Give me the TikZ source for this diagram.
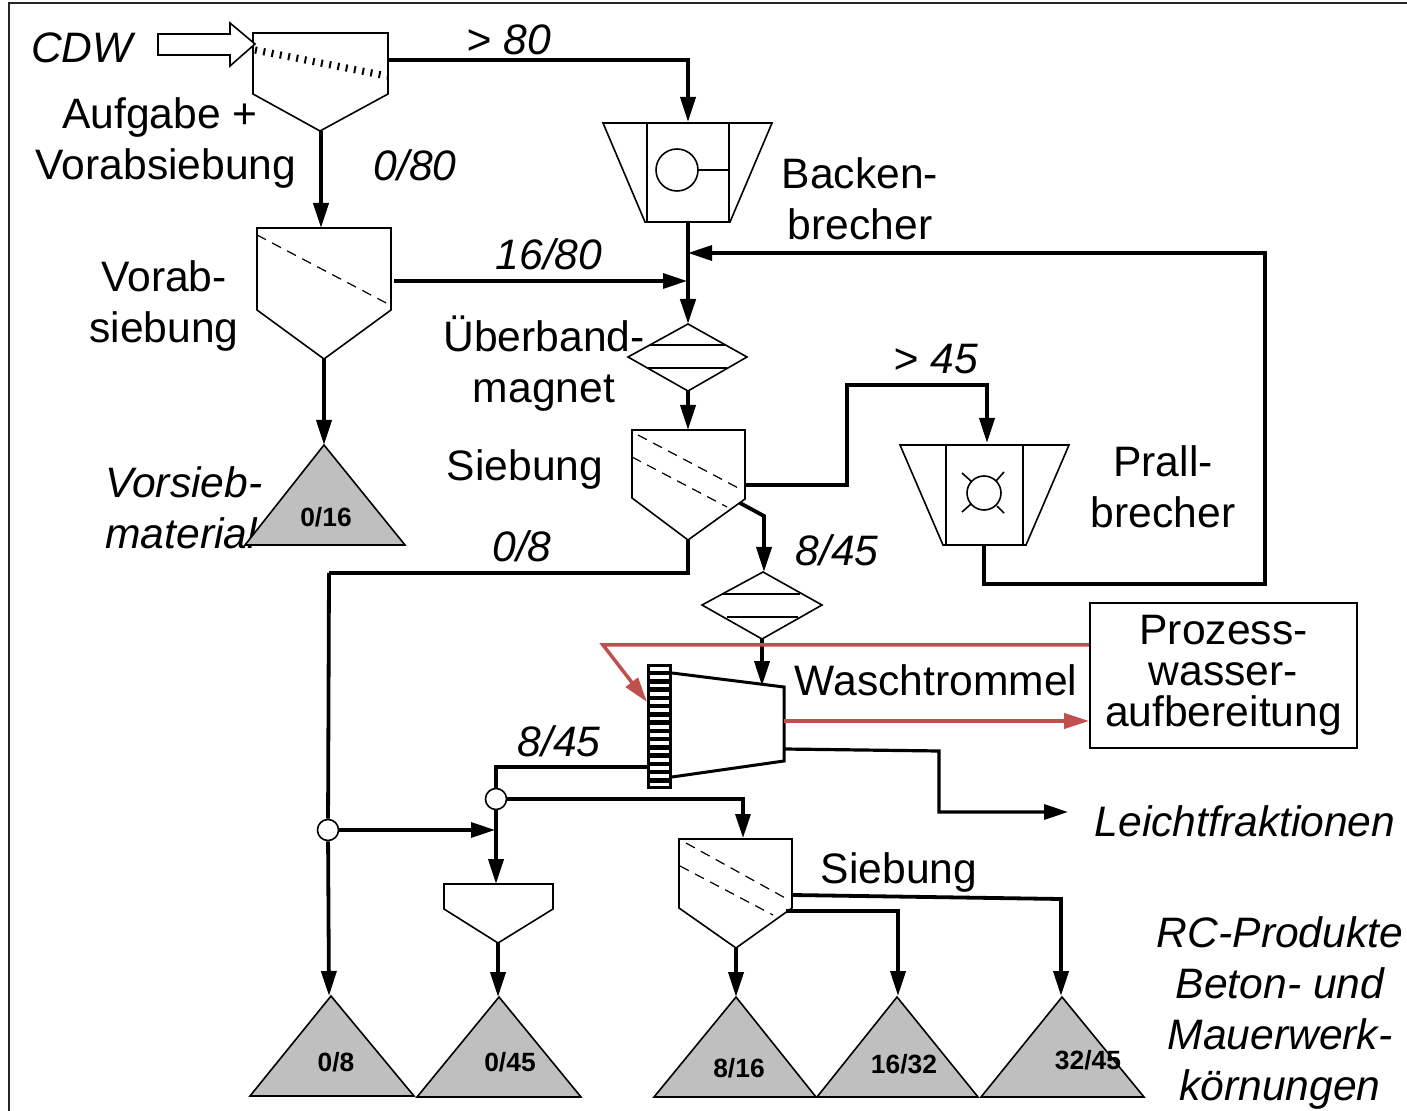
\documentclass[tikz,border=0pt]{standalone}
\usepackage{fontspec}
\setmainfont{Liberation Sans}
\usetikzlibrary{arrows.meta}

\begin{document}
\begin{tikzpicture}[x=0.5pt,y=-0.5pt,
    unit/.style={
        draw=black,
        line width=0.8pt,
        line join=miter
    },
    sieve/.style={
        black,
        line width=0.6pt,
        dash pattern=on 5pt off 3.5pt
    },
    pile/.style={
        draw=black,
        fill=gray!50!white,
        line width=0.8pt
    },
    flow/.style={
        -{Triangle[length=12.5pt,width=7.5pt]},
        black,
        line width=1.9pt,
        line join=miter
    },
    flowThin/.style={
        -{Triangle[length=12pt,width=7.5pt]},
        black,
        line width=1.6pt,
        line join=miter
    },
    water/.style={
        -{Triangle[length=12.5pt,width=7.5pt]},
        color={rgb,255:red,192;green,80;blue,77},
        line width=1.75pt
    },
    lbl/.style={
        font=\fontsize{21.3}{25.5}\selectfont,
        align=center,
        inner sep=0pt
    },
    tag/.style={
        lbl,
        font=\fontsize{21.3}{25.5}\selectfont\itshape
    },
    pileTag/.style={
        font=\fontsize{13.2}{15}\selectfont\bfseries,
        inner sep=0pt
    },
    junction/.style={
        circle,
        draw=black,
        fill=white,
        line width=0.8pt,
        inner sep=0pt,
        minimum size=10.5pt
    }
]

\path[use as bounding box] (0,0) rectangle (1407,1111);

% frame
\draw[black!85,line width=0.9pt] (9,1111) -- (9,3) -- (1407,3);

% texts, the piles lie over them
\node[tag] (cdwLabel) at (82,48) {CDW};
\node[tag] (over80) at (509,40) {> 80};
\node[lbl] (feedLabel) at (166,143) {Aufgabe +\hspace*{6pt}\\Vorabsiebung};
\node[tag] (fine80) at (415,165) {0/80};
\node[lbl] (preLabel) at (164,306) {Vorab-\\siebung};
\node[tag] (mid80) at (549,254) {16/80};
\node[lbl] (jawLabel) at (860,199) {Backen-\\brecher};
\node[lbl] (magnetLabel) at (544,364) {Überband-\\magnet};
\node[tag] (over45) at (936,359) {> 45};
\node[lbl] (screenLabel) at (525,469) {Siebung};
\node[lbl] (impactLabel) at (1163,487) {Prall-\\brecher};
\node[tag,align=left,anchor=west] (preMat) at (105,508) {Vorsieb-\\material};
\node[tag] (fine8) at (522,546) {0/8};
\node[tag] (mid45) at (837,550) {8/45};
\node[lbl] (drumLabel) at (936,680) {Waschtrommel};
\node[tag] (wash45) at (559,741) {8/45};
\node[tag] (lightLabel) at (1245,821) {Leichtfraktionen};
\node[lbl] (screenTwoLabel) at (899,872) {Siebung};
\node[tag] (rcLabel) at (1280,1013) {RC-Produkte\\Beton- und\\Mauerwerk-\\körnungen};

% feed hopper
\draw[unit] (253,33) -- (388,33) -- (388,94) -- (320,131) -- (253,94) -- cycle;
\draw[black,line width=3.6pt,dash pattern=on 1pt off 3.2pt] (255,50) -- (387,76);
\draw[unit,fill=white] (158,34) -- (230,34) -- (230,23) -- (255,44) -- (230,66) -- (230,55) -- (158,55) -- cycle;

% pre screen
\draw[unit] (257,228) -- (391,228) -- (391,310) -- (324,359) -- (257,310) -- cycle;
\draw[sieve] (257,235) -- (390,305);

% jaw crusher
\draw[unit] (603,123) -- (772,123) -- (730,222) -- (645,222) -- cycle;
\draw[unit] (647,123) -- (647,222);
\draw[unit] (729,123) -- (729,222);
\draw[unit] (677,170) circle (21);
\draw[unit] (698,170) -- (729,170);

% magnet
\draw[unit] (688,324) -- (747,357) -- (688,391) -- (628,357) -- cycle;
\draw[unit] (650,345) -- (725,345);
\draw[unit,line width=1.3pt] (648,368) -- (727,368);

% screen
\draw[unit] (632,430) -- (745,430) -- (745,499) -- (688,540) -- (632,498) -- cycle;
\draw[sieve] (638,435) -- (742,490);
\draw[sieve] (632,457) -- (727,507);

% impact crusher
\draw[unit] (900,445) -- (1069,445) -- (1026,545) -- (943,545) -- cycle;
\draw[unit,line width=1.2pt] (946,445) -- (946,545);
\draw[unit] (1023,445) -- (1023,545);
\draw[unit] (984,493) circle (17);
\draw[unit] (962,473) -- (972,482);
\draw[unit] (1004,472) -- (996,481);
\draw[unit] (962,512) -- (971,504);
\draw[unit] (1004,513) -- (997,506);

% second magnet
\draw[unit] (763,572) -- (822,605) -- (762,639) -- (702,605) -- cycle;
\draw[unit] (723,594) -- (800,594);
\draw[unit,line width=1.3pt] (727,617) -- (798,617);

% drum
\draw[unit,line width=1.5pt] (672,673) -- (784,687) -- (784,761) -- (672,777);
\fill[black] (647,664) rectangle (672,789);
\foreach \y in {0,...,14}{
    \draw[white,line width=1.9pt] (650,669+8.25*\y) -- (669,669+8.25*\y);
}

% water box
\node[draw=black,line width=0.8pt,minimum width=133.5pt,minimum height=72.5pt,inner sep=0pt,
      lbl,font=\fontsize{21.3}{20.5}\selectfont] (waterBox) at (1223.5,675.5)
      {Prozess-\\wasser-\\aufbereitung};

% small hopper
\draw[unit] (444,884) -- (553,884) -- (553,909) -- (498,943) -- (444,909) -- cycle;

% last screen
\draw[unit] (679,839) -- (792,839) -- (792,908) -- (736,948) -- (679,908) -- cycle;
\draw[sieve] (686,843) -- (787,899);
\draw[sieve] (680,866) -- (773,915);

% piles
\foreach \xa/\xl/\xr/\ya in {
    324/245/405/445,
    331/250/414/996,
    499/417/581/997,
    736/654/816/997,
    897/817/978/997,
    1062/981/1144/997}{
    \draw[pile] (\xa,\ya) -- (\xr,\ya+100) -- (\xl,\ya+100) -- cycle;
}
\node[pileTag] (pileA) at (326,517) {0/16};
\node[pileTag] (pileB) at (336,1062) {0/8};
\node[pileTag] (pileC) at (510,1062) {0/45};
\node[pileTag] (pileD) at (739,1068) {8/16};
\node[pileTag] (pileE) at (904,1064) {16/32};
\node[pileTag] (pileF) at (1088,1060) {32/45};

% junctions
\node[junction] (juncA) at (328,830) {};
\node[junction] (juncB) at (496,799) {};

% ends of the flows
\coordinate (feedOut) at (388,60);
\coordinate (feedBase) at (321,131);
\coordinate (preTop) at (321,228);
\coordinate (preBase) at (324,359);
\coordinate (pileAtop) at (324,445);
\coordinate (preOut) at (394,281);
\coordinate (jawTop) at (688,122);
\coordinate (jawBase) at (688,222);
\coordinate (preIn) at (687,281);
\coordinate (backIn) at (688,253);
\coordinate (magTop) at (688,324);
\coordinate (magBase) at (688,391);
\coordinate (scrTop) at (688,430);
\coordinate (scrBase) at (688,540);
\coordinate (scrOut) at (744,485);
\coordinate (kneeA) at (847,385);
\coordinate (impTop) at (987,443);
\coordinate (impBase) at (984,544);
\coordinate (kneeB) at (1265,584);
\coordinate (scrSide) at (740,503);
\coordinate (kneeC) at (764,516);
\coordinate (magTwoTop) at (764,572);
\coordinate (magTwoBase) at (762,639);
\coordinate (drumTop) at (762,686);
\coordinate (kneeD) at (329,573);
\coordinate (pileBtop) at (329,996);
\coordinate (washOut) at (647,767);
\coordinate (kneeE) at (496,767);
\coordinate (hopIn) at (496,884);
\coordinate (mergeIn) at (495,830);
\coordinate (lastTop) at (743,838);
\coordinate (hopBase) at (498,943);
\coordinate (pileCtop) at (498,997);
\coordinate (lastBase) at (736,948);
\coordinate (pileDtop) at (736,997);
\coordinate (lastMid) at (786,911);
\coordinate (pileEtop) at (898,996);
\coordinate (lastOut) at (792,895);
\coordinate (kneeF) at (1061,899);
\coordinate (pileFtop) at (1061,996);
\coordinate (drumSide) at (784,749);
\coordinate (kneeG) at (939,751);
\coordinate (lightEnd) at (1068,812);
\coordinate (redStart) at (603,645);
\coordinate (redTip) at (647,702);
\coordinate (redOut) at (784,721);

% flows
\draw[flow] (feedOut) -| (jawTop);
\draw[flow,line width=2pt] (feedBase) -- (preTop);
\draw[flow] (preBase) -- (pileAtop);
\draw[flowThin] (preOut) -- (preIn);
\draw[flow,line width=2.2pt] (jawBase) -- (magTop);
\draw[flowThin] (impBase) |- (kneeB) |- (backIn);
\draw[flow] (magBase) -- (scrTop);
\draw[flow] (scrOut) -| (kneeA) -| (impTop);
\draw[flow] (scrSide) -- (kneeC) -- (magTwoTop);
\draw[flow] (magTwoBase) -- (drumTop);
\draw[flow,-] (scrBase) |- (kneeD);
\draw[flow,-] (kneeD) -- (juncA);
\draw[flow] (juncA) -- (pileBtop);
\draw[flowThin,-] (washOut) -- (kneeE) -- (juncB);
\draw[flow] (juncB) -- (hopIn);
\draw[flowThin] (juncA) -- (mergeIn);
\draw[flowThin] (juncB) -| (lastTop);
\draw[flow] (hopBase) -- (pileCtop);
\draw[flow] (lastBase) -- (pileDtop);
\draw[flow] (lastMid) -| (pileEtop);
\draw[flow] (lastOut) -- (kneeF) -- (pileFtop);
\draw[flowThin] (drumSide) -- (kneeG) |- (lightEnd);

% water lines
\draw[water] (waterBox.west |- redStart) -- (redStart) -- (redTip);
\draw[water] (redOut) -- (waterBox.west |- redOut);
\end{tikzpicture}
\end{document}
